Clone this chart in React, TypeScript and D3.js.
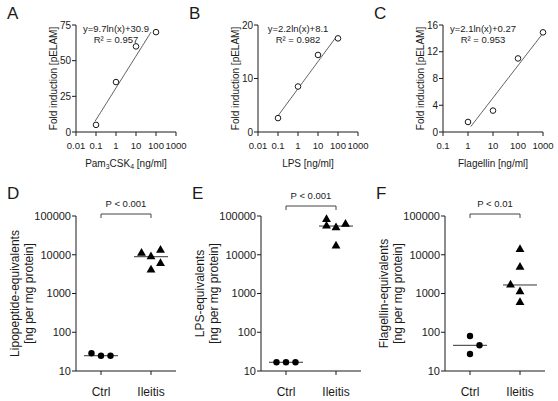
import React from "react";
import * as d3 from "d3";

// ---------- Top row data (dose-response) ----------
const doseA = [0.1, 1, 10, 100];
const foldA = [5, 35, 60, 70];
const doseB = [0.1, 1, 10, 100];
const foldB = [2.6, 8.5, 14.4, 17.5];
const doseC = [1, 10, 100, 1000];
const foldC = [1.5, 3.2, 11.0, 14.9];

const fitA = { slope: 9.7, intercept: 30.9, r2: "0.957", from: 0.09, to: 56 };
const fitB = { slope: 2.2, intercept: 8.1, r2: "0.982", from: 0.1, to: 80 };
const fitC = { slope: 2.1, intercept: 0.27, r2: "0.953", from: 1.3, to: 1000 };

const xTicksAB = [0.01, 0.1, 1, 10, 100, 1000];
const xTicksC = [0.1, 1, 10, 100, 1000];
const yTicksA = [0, 25, 50, 75];
const yTicksB = [0, 10, 20];
const yTicksC = [0, 4, 8, 12, 16];

// ---------- Bottom row data (equivalents) ----------
const groups = ["Ctrl", "Ileitis"];
const ctrlD = [28.7, 24.8, 24.8];
const ileD = [11000, 8900, 13200, 4060, 6000];
const ctrlE = [16.8, 16.8, 16.8];
const ileE = [82000, 55000, 50000, 61500, 17000];
const ctrlF = [80, 46, 27.5];
const ileF = [13800, 4800, 1660, 1120, 590];
// column slot of each point inside its group (scatter jitter column)
const ctrlSlotD = [-1, 0, 1];
const ileSlotD = [-1, 0, 1, 0, 1];
const ctrlSlotE = [-1, 0, 1];
const ileSlotE = [-1, -1, 0, 1, 0];
const ctrlSlotF = [0, 1, 0];
const ileSlotF = [0, 0, -1, 0, 0];
const yTicksLog = [10, 100, 1000, 10000, 100000];
const pD = "P < 0.001";
const pE = "P < 0.001";
const pF = "P < 0.01";

const FONT = "Arial, 'Liberation Sans', Helvetica, sans-serif";
const INK = "#1a1a1a";

function fmt(v: number) {
  return String(+v.toPrecision(6));
}

type TopProps = {
  letter: string;
  ax: number;
  xDomain: [number, number];
  xWidth: number;
  xTicks: number[];
  yTicks: number[];
  dose: number[];
  fold: number[];
  fit: { slope: number; intercept: number; r2: string; from: number; to: number };
  xTitle: React.ReactNode;
};

function TopPanel(p: TopProps) {
  const yTop = 25;
  const yBot = 132;
  const x = d3.scaleLog().domain(p.xDomain).range([p.ax, p.ax + p.xWidth]);
  const yMax = p.yTicks[p.yTicks.length - 1];
  const y = d3.scaleLinear().domain([0, yMax]).range([yBot, yTop]);
  const fitPts = d3.range(0, 41).map((i) => {
    const lx = Math.log(p.fit.from) + ((Math.log(p.fit.to) - Math.log(p.fit.from)) * i) / 40;
    return [Math.exp(lx), p.fit.slope * lx + p.fit.intercept] as [number, number];
  });
  const line = d3
    .line<[number, number]>()
    .x((d) => x(d[0]))
    .y((d) => y(d[1]));
  const cx = p.ax + p.xWidth / 2;
  const eqX = p.ax + 40;
  return (
    <g>
      <text x={p.ax - 69} y={18.5} fontSize={17} fill={INK}>
        {p.letter}
      </text>
      {/* y axis */}
      <line x1={p.ax} x2={p.ax} y1={yTop} y2={yBot} stroke={INK} />
      {p.yTicks.map((t) => (
        <g key={t}>
          <line x1={p.ax - 4} x2={p.ax} y1={y(t)} y2={y(t)} stroke={INK} />
          <text x={p.ax - 5} y={y(t)} dy="0.35em" textAnchor="end" fontSize={10} fill={INK}>
            {t}
          </text>
        </g>
      ))}
      {/* x axis */}
      <line x1={p.ax} x2={p.ax + p.xWidth} y1={yBot} y2={yBot} stroke={INK} />
      {p.xTicks.map((t) => (
        <g key={t}>
          <line x1={x(t)} x2={x(t)} y1={yBot} y2={yBot + 4} stroke={INK} />
          <text x={x(t)} y={146} dy="0.35em" textAnchor="middle" fontSize={9.5} fill={INK}>
            {fmt(t)}
          </text>
        </g>
      ))}
      <text x={cx} y={163} dy="0.35em" textAnchor="middle" fontSize={10} fill={INK}>
        {p.xTitle}
      </text>
      <text
        transform={`translate(${p.ax - 23},${(yTop + yBot) / 2}) rotate(-90)`}
        textAnchor="middle"
        dy="0.35em"
        fontSize={10}
        fill={INK}
      >
        Fold induction [pELAM]
      </text>
      {/* fit line */}
      <path d={line(fitPts) || ""} fill="none" stroke="#333" strokeWidth={0.8} />
      {p.dose.map((d, i) => (
        <circle key={i} cx={x(d)} cy={y(p.fold[i])} r={2.8} fill="white" stroke={INK} strokeWidth={1} />
      ))}
      <text x={eqX} y={29} dy="0.35em" textAnchor="middle" fontSize={9.5} fill={INK}>
        {`y=${p.fit.slope}ln(x)+${p.fit.intercept}`}
      </text>
      <text x={eqX} y={40} dy="0.35em" textAnchor="middle" fontSize={9.5} fill={INK}>
        {`R² = ${p.fit.r2}`}
      </text>
    </g>
  );
}

type BotProps = {
  letter: string;
  ax: number;
  ctrl: number[];
  ile: number[];
  ctrlSlot: number[];
  ileSlot: number[];
  p: string;
  bracketY: number;
  title1: string;
  title2: string;
};

function BottomPanel(b: BotProps) {
  const yTop = 216;
  const yBot = 371;
  const y = d3.scaleLog().domain([10, 100000]).range([yBot, yTop]);
  const x = d3.scalePoint<string>().domain(groups).range([b.ax + 25, b.ax + 75]);
  const slotW = 9.5;
  const tri = d3.symbol(d3.symbolTriangle, 34)() || "";
  const xc = x("Ctrl")!;
  const xi = x("Ileitis")!;
  const mc = d3.median(b.ctrl)!;
  const mi = d3.median(b.ile)!;
  const half = 17;
  return (
    <g>
      <text x={b.ax - 69} y={199} fontSize={17} fill={INK}>
        {b.letter}
      </text>
      <line x1={b.ax} x2={b.ax} y1={yTop} y2={yBot} stroke={INK} />
      {yTicksLog.map((t) => (
        <g key={t}>
          <line x1={b.ax - 4} x2={b.ax} y1={y(t)} y2={y(t)} stroke={INK} />
          <text x={b.ax - 5} y={y(t)} dy="0.35em" textAnchor="end" fontSize={11} fill={INK}>
            {t}
          </text>
        </g>
      ))}
      <line x1={b.ax} x2={b.ax + 100} y1={yBot} y2={yBot} stroke={INK} />
      {groups.map((g) => (
        <g key={g}>
          <line x1={x(g)} x2={x(g)} y1={yBot} y2={yBot + 4} stroke={INK} />
          <text x={x(g)} y={392} dy="0.35em" textAnchor="middle" fontSize={12} fill={INK}>
            {g}
          </text>
        </g>
      ))}
      <text
        transform={`translate(${b.ax - 61},${(yTop + yBot) / 2}) rotate(-90)`}
        textAnchor="middle"
        dy="0.35em"
        fontSize={12}
        fill={INK}
      >
        {b.title1}
      </text>
      <text
        transform={`translate(${b.ax - 47},${(yTop + yBot) / 2}) rotate(-90)`}
        textAnchor="middle"
        dy="0.35em"
        fontSize={12}
        fill={INK}
      >
        {b.title2}
      </text>
      {/* bracket */}
      <path
        d={`M${xc},${b.bracketY + 4}V${b.bracketY}H${xi}V${b.bracketY + 4}`}
        fill="none"
        stroke="#444"
        strokeWidth={1}
      />
      <text x={(xc + xi) / 2} y={b.bracketY - 10} dy="0.35em" textAnchor="middle" fontSize={9.5} fill={INK}>
        {b.p}
      </text>
      {/* medians */}
      <line x1={xc - half} x2={xc + half} y1={y(mc)} y2={y(mc)} stroke="#333" strokeWidth={1} />
      <line x1={xi - half} x2={xi + half} y1={y(mi)} y2={y(mi)} stroke="#333" strokeWidth={1} />
      {b.ctrl.map((v, i) => (
        <circle key={"c" + i} cx={xc + b.ctrlSlot[i] * slotW} cy={y(v)} r={3.2} fill="#000" />
      ))}
      {b.ile.map((v, i) => (
        <path key={"i" + i} d={tri} transform={`translate(${xi + b.ileSlot[i] * slotW},${y(v)})`} fill="#000" />
      ))}
    </g>
  );
}

export default function App() {
  return (
    <svg
      width={558}
      height={401}
      style={{ position: "absolute", left: 0, top: 0, background: "white" }}
      fontFamily={FONT}
    >
      <rect width={558} height={401} fill="white" />
      <TopPanel
        letter="A"
        ax={76}
        xDomain={[0.01, 1000]}
        xWidth={100}
        xTicks={xTicksAB}
        yTicks={yTicksA}
        dose={doseA}
        fold={foldA}
        fit={fitA}
        xTitle={
          <>
            Pam
            <tspan fontSize={7} dy={2}>3</tspan>
            <tspan dy={-2}>CSK</tspan>
            <tspan fontSize={7} dy={2}>4</tspan>
            <tspan dy={-2}> [ng/ml]</tspan>
          </>
        }
      />
      <TopPanel
        letter="B"
        ax={258}
        xDomain={[0.01, 1000]}
        xWidth={100}
        xTicks={xTicksAB}
        yTicks={yTicksB}
        dose={doseB}
        fold={foldB}
        fit={fitB}
        xTitle="LPS [ng/ml]"
      />
      <TopPanel
        letter="C"
        ax={443}
        xDomain={[0.1, 1000]}
        xWidth={100}
        xTicks={xTicksC}
        yTicks={yTicksC}
        dose={doseC}
        fold={foldC}
        fit={fitC}
        xTitle="Flagellin [ng/ml]"
      />
      <BottomPanel
        letter="D"
        ax={76}
        ctrl={ctrlD}
        ile={ileD}
        ctrlSlot={ctrlSlotD}
        ileSlot={ileSlotD}
        p={pD}
        bracketY={214}
        title1="Lipopeptide-equivalents"
        title2="[ng per mg protein]"
      />
      <BottomPanel
        letter="E"
        ax={261}
        ctrl={ctrlE}
        ile={ileE}
        ctrlSlot={ctrlSlotE}
        ileSlot={ileSlotE}
        p={pE}
        bracketY={206}
        title1="LPS-equivalents"
        title2="[ng per mg protein]"
      />
      <BottomPanel
        letter="F"
        ax={445}
        ctrl={ctrlF}
        ile={ileF}
        ctrlSlot={ctrlSlotF}
        ileSlot={ileSlotF}
        p={pF}
        bracketY={214}
        title1="Flagellin-equivalents"
        title2="[ng per mg protein]"
      />
    </svg>
  );
}
